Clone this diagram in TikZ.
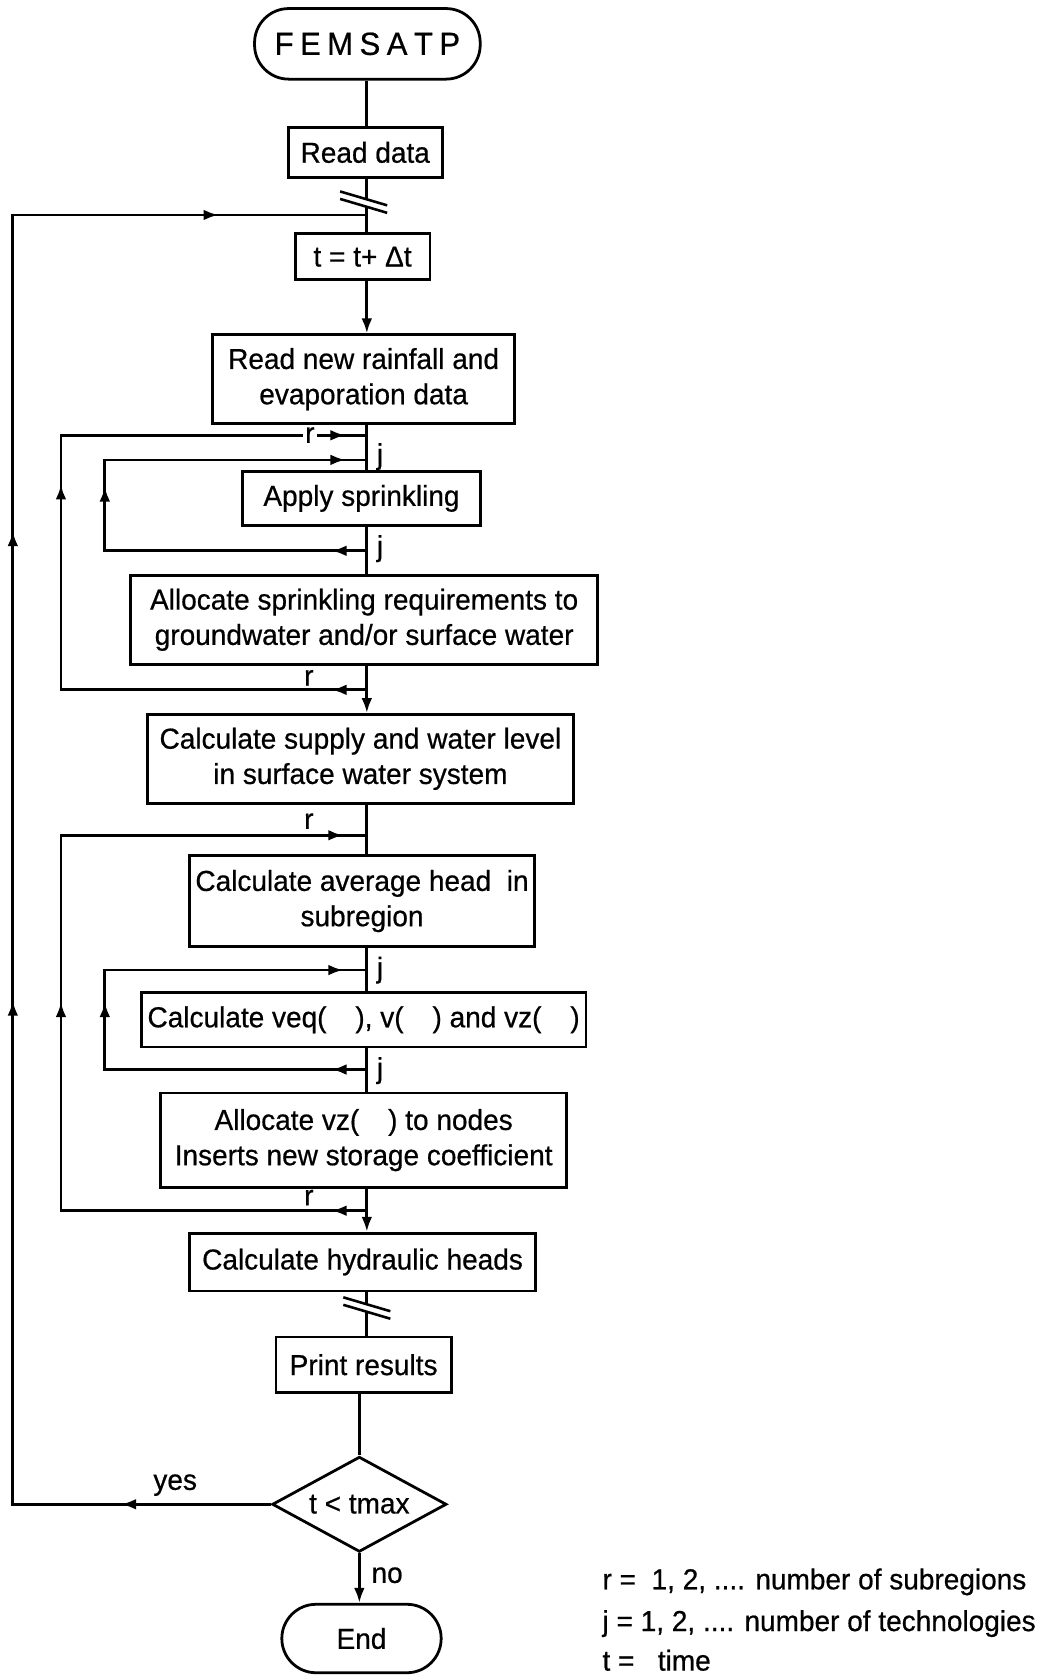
\documentclass[tikz,border=0pt]{standalone}
\usepackage{fontspec}
\setmainfont{Liberation Sans}[FakeStretch=0.97,FakeBold=0.6]
\usetikzlibrary{arrows.meta,shapes.geometric,decorations.markings}
\newcommand\mainfs{\fontsize{13.5pt}{16.5pt}\selectfont}
\begin{document}
\begin{tikzpicture}[x=0.5pt,y=-0.5pt,
  ln/.style={line width=1.3pt},
  box/.style={draw,line width=1.3pt,inner sep=0pt,align=center,font=\mainfs},
  term/.style={box,rounded corners=16pt},
  lab/.style={inner sep=0pt,font=\mainfs},
  tip/.style={-{Latex[length=7pt,width=5pt]}},
  mid/.style={postaction={decorate,decoration={markings,mark=at position #1 with {\arrow{Latex[length=7pt,width=5pt]}}}}},
]
\useasboundingbox (0,0) rectangle (985,1568);
% axis coordinates
\coordinate (ax) at (343,0);
\coordinate (otop) at (12,201);
% nodes
\node[term,minimum width=105.5pt,minimum height=33pt] (start) at (343.5,41)
  {\fontsize{15pt}{18pt}\selectfont F\hspace{3pt}E\hspace{3pt}M\hspace{3pt}S\hspace{3pt}A\hspace{3pt}T\hspace{3pt}P};
\node[box,minimum width=72pt,minimum height=23.5pt] (read) at (341.5,142.5) {Read data};
\node[box,minimum width=63pt,minimum height=21.5pt] (tbox) at (339,240) {t = t+ Δt};
\node[box,minimum width=141pt,minimum height=41.5pt] (rain) at (340,354.5) {Read new rainfall and\\evaporation data};
\node[box,minimum width=111pt,minimum height=25pt] (apply) at (338,466) {Apply sprinkling};
\node[box,minimum width=218.5pt,minimum height=41.5pt] (alloc1) at (340.5,579.5) {Allocate sprinkling requirements to\\groundwater and/or surface water};
\node[box,minimum width=199pt,minimum height=41.5pt] (supply) at (337,709.5) {Calculate supply and water level\\in surface water system};
\node[box,minimum width=161.5pt,minimum height=42.5pt] (avg) at (338.5,842.5) {Calculate average head\ \ in\\subregion};
\node[box,minimum width=208pt,minimum height=25.5pt] (veq) at (340,953.5) {Calculate veq(\quad), v(\quad) and vz(\quad)};
\node[box,minimum width=190pt,minimum height=44pt] (allocvz) at (340,1066) {Allocate vz(\quad) to nodes\\Inserts new storage coefficient};
\node[box,minimum width=162pt,minimum height=27pt] (hyd) at (339,1180) {Calculate hydraulic heads};
\node[box,minimum width=82pt,minimum height=26pt] (print) at (340,1276) {Print results};
\node[box,diamond,aspect=1.8,minimum width=81.5pt,minimum height=44.5pt] (dec) at (336,1406.5) {t < tmax};
\node[term,minimum width=74.5pt,minimum height=32pt] (end) at (338,1532) {End};
% loop coordinates
\coordinate (r1a) at (343,645); \coordinate (r1b) at (57,645); \coordinate (r1c) at (57,407); \coordinate (r1d) at (343,407);
\coordinate (j1a) at (343,515); \coordinate (j1b) at (98,515); \coordinate (j1c) at (98,430); \coordinate (j1d) at (343,430);
\coordinate (r2a) at (343,1132); \coordinate (r2b) at (57,1132); \coordinate (r2c) at (57,781); \coordinate (r2d) at (343,781);
\coordinate (j2a) at (343,1000); \coordinate (j2b) at (98,1000); \coordinate (j2c) at (98,907); \coordinate (j2d) at (343,907);
\coordinate (brk1) at (340,189);
\coordinate (brk2) at (343,1223);
% main line
\draw[ln] (start.south -| ax) -- (read.north -| ax);
\draw[ln] (read.south -| ax) -- (tbox.north -| ax);
\draw[ln,tip] (tbox.south -| ax) -- (rain.north -| ax);
\draw[ln] (rain.south -| ax) -- (apply.north -| ax);
\draw[ln] (apply.south -| ax) -- (alloc1.north -| ax);
\draw[ln,tip] (alloc1.south -| ax) -- (supply.north -| ax);
\draw[ln] (supply.south -| ax) -- (avg.north -| ax);
\draw[ln] (avg.south -| ax) -- (veq.north -| ax);
\draw[ln] (veq.south -| ax) -- (allocvz.north -| ax);
\draw[ln,tip] (allocvz.south -| ax) -- (hyd.north -| ax);
\draw[ln] (hyd.south -| ax) -- (print.north -| ax);
\draw[ln] (print.south -| dec.north) -- (dec.north);
\draw[ln,tip] (dec.south) -- (dec.south |- end.north);
% break marks
\foreach \b in {brk1,brk2}{
  \fill[white] ([shift={(-22,-10)}]\b) -- ([shift={(22,3)}]\b) -- ([shift={(22,10)}]\b) -- ([shift={(-22,-3)}]\b) -- cycle;
  \draw[line width=1.2pt] ([shift={(-22,-10)}]\b) -- ([shift={(22,3)}]\b);
  \draw[line width=1.2pt] ([shift={(-22,-3)}]\b) -- ([shift={(22,10)}]\b);
}
% outer loop
\draw[ln,mid=70pt,mid=356pt,mid=575.5pt,mid=819.5pt] (dec.west) -- (dec.west -| otop) -- (otop) -- (otop -| ax);
% r and j loops
\draw[ln,mid=16.5pt,mid=239pt,mid=395pt] (r1a) -- (r1b) -- (r1c) -- (r1d);
\draw[ln,mid=16.5pt,mid=152.5pt,mid=277.5pt] (j1a) -- (j1b) -- (j1c) -- (j1d);
\draw[ln,mid=16.5pt,mid=240.5pt,mid=450.5pt] (r2a) -- (r2b) -- (r2c) -- (r2d);
\draw[ln,mid=16.5pt,mid=154pt,mid=280.5pt] (j2a) -- (j2b) -- (j2c) -- (j2d);
% labels
\node[lab,anchor=base west,fill=white,inner xsep=1pt] (lr1) at (283,414) {r};
\node[lab,anchor=base west] (lr2) at (284,641) {r};
\node[lab,anchor=base west] (lr3) at (284,775) {r};
\node[lab,anchor=base west] (lr4) at (284,1127) {r};
\node[lab,anchor=base west] (lj1) at (352,434) {j};
\node[lab,anchor=base west] (lj2) at (352,520) {j};
\node[lab,anchor=base west] (lj3) at (352,914) {j};
\node[lab,anchor=base west] (lj4) at (352,1008) {j};
\node[lab,anchor=base west] (lyes) at (143,1393) {yes};
\node[lab,anchor=base west] (lno) at (347,1480) {no};
% legend
\node[lab,anchor=base west] (leg1) at (563,1486) {r =\ \ 1, 2, .... number of subregions};
\node[lab,anchor=base west] (leg2) at (563,1525) {j = 1, 2, .... number of technologies};
\node[lab,anchor=base west] (leg3) at (563,1562) {t =\ \ \ time};
\end{tikzpicture}
\end{document}
